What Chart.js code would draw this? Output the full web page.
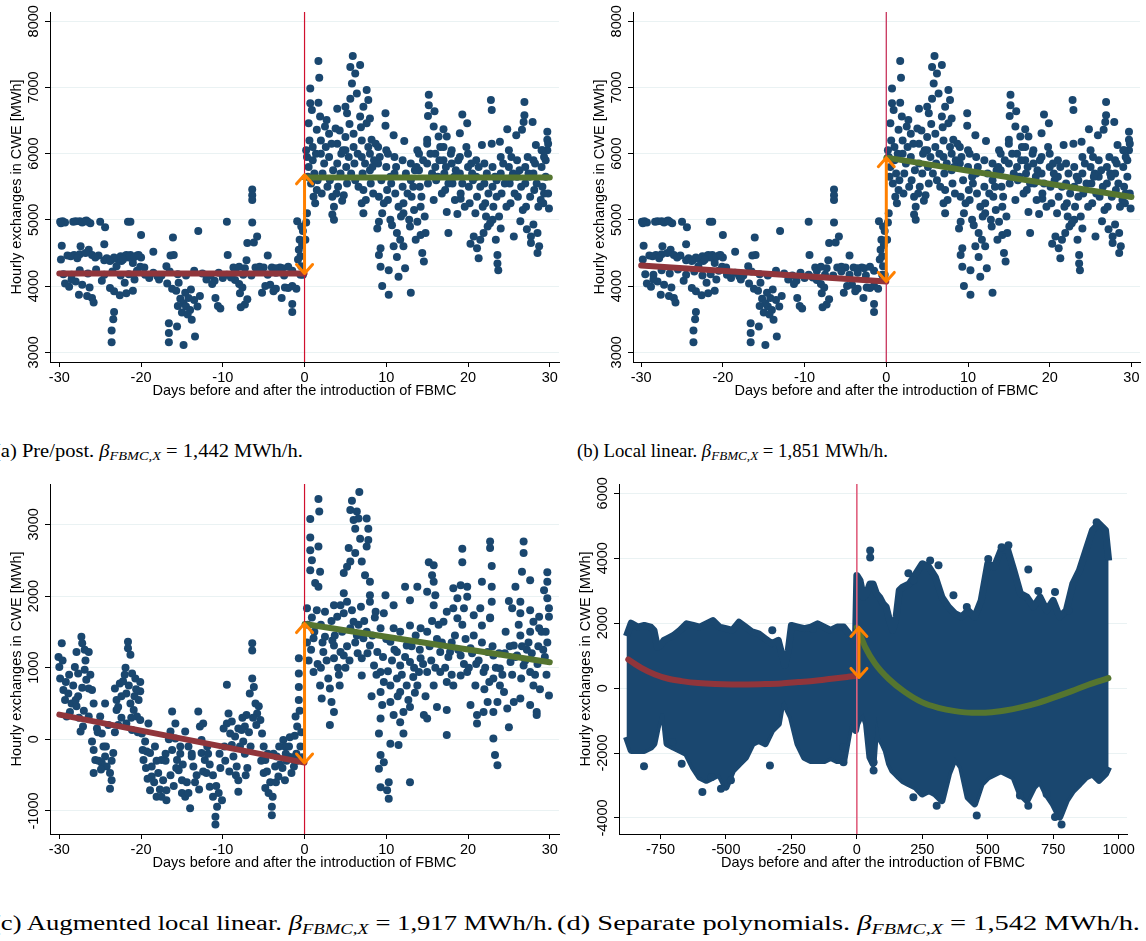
<!DOCTYPE html>
<html>
<head>
<meta charset="utf-8">
<script src="https://cdn.jsdelivr.net/npm/chart.js@4.4.1/dist/chart.umd.min.js"></script>
<style>
  body { margin: 0; background: #fff; width: 1146px; height: 941px; position: relative; overflow: hidden; }
  canvas { position: absolute; }
  .cap { position: absolute; font-family: 'Liberation Serif', 'DejaVu Serif', serif; white-space: nowrap; color: #000; transform-origin: 0 50%; }
  .top { font-size: 19px; line-height: 22px; top: 440px; }
  .bot { font-size: 20px; line-height: 24px; top: 911px; }
  .cap sub { font-size: 0.7em; font-style: italic; vertical-align: -0.25em; line-height: 0; }
</style>
</head>
<body>
<canvas id="cA" width="573" height="400" style="left:0;top:0"></canvas>
<canvas id="cB" width="563" height="400" style="left:583px;top:0"></canvas>
<canvas id="cC" width="573" height="400" style="left:0;top:472px"></canvas>
<canvas id="cD" width="573" height="400" style="left:569px;top:472px"></canvas>

<div class="cap top" data-w="309" style="left:-6px">(a) Pre/post. <i>β</i><sub>FBMC,X</sub> = 1,442 MWh/h.</div>
<div class="cap top" data-w="311" style="left:577px">(b) Local linear. <i>β</i><sub>FBMC,X</sub> = 1,851 MWh/h.</div>
<div class="cap bot" data-w="561" style="left:-8px">(c) Augmented local linear. <i>β</i><sub>FBMC,X</sub> = 1,917 MWh/h.</div>
<div class="cap bot" data-w="583" style="left:557px">(d) Separate polynomials. <i>β</i><sub>FBMC,X</sub> = 1,542 MWh/h.</div>

<script>
// hourly exchanges, 30 days window (panels a and b share the same points)
const abPre = [
  [-29.9,4970],[-29.6,4980],[-29.3,4960],[-28,4980],[-27.5,4980],[-26.9,4980],[-26.5,4970],[-26.2,4950],[-25,4970],[-24.4,4890],
  [-21.6,4970],[-21.3,4970],[-20,4770],[-9.5,4970],[-6.4,5460],[-6.4,5370],[-6.4,5300],[-6.4,4960],[-13,4830],[-16.1,4735],
  [-18.5,4520],[-29.7,4610],[-29.8,4400],[-29,4460],[-28.2,4470],[-27.5,4480],[-27.4,4600],[-26.4,4550],[-26,4470],[-25.2,4460],
  [-24.5,4630],[-24.5,4390],[-23.6,4400],[-22.8,4400],[-22,4450],[-21.3,4470],[-20.5,4460],[-20,4430],[-21,4350],[-22.4,4380],
  [-23,4300],[-20.1,4290],[-16.4,4460],[-16,4470],[-9.4,4470],[-7.1,4390],[-7,4650],[-6.2,4660],[-5.8,4750],[-4.5,4460],
  [-6,4280],[-5,4280],[-4,4280],[-3,4280],[-5.5,4290],[-3.5,4270],[-12,4100],[-11,4080],
  [-29.5,4180],[-28.5,4170],[-27.5,4240],[-26.5,4190],[-25.5,4250],[-24.5,4170],[-23.5,4220],[-22.5,4160],[-21.5,4180],[-20.5,4230],
  [-19.5,4170],[-18.5,4200],[-17.5,4160],[-16.5,4220],[-15.5,4180],[-14.5,4160],[-13.5,4230],[-12.5,4190],[-11.5,4160],[-10.5,4200],
  [-9.5,4170],[-8.5,4230],[-7.5,4170],[-6.5,4160],[-5.5,4220],[-4.5,4170],[-3.5,4200],[-2.5,4160],[-1.5,4230],[-0.5,4170],
  [-29.3,4040],[-28.8,3990],[-28,4070],[-27.6,3870],[-26.6,3850],[-26,3820],[-25.8,3750],[-23.8,3970],[-23.3,3920],[-22.6,3860],
  [-21.8,3890],[-21,3930],[-23.3,3610],[-23.4,3500],[-23.6,3330],[-23.6,3150],[-16.8,4040],[-16.2,3960],[-15.7,3930],[-15.2,3810],
  [-14.8,3740],[-14.2,3820],[-13.5,3790],[-13.1,3690],[-14.5,3690],[-15,3600],[-14,3640],[-16.6,3440],[-16.6,3290],[-16.6,3150],
  [-15.6,3390],[-14.8,3110],[-13.8,3490],[-13.4,3240],[-11.3,4030],[-10.9,3820],[-10.3,3660],[-10.6,3700],[-8.5,4090],[-8,4030],
  [-7.9,3890],[-7.3,3720],[-7.8,3680],[-4.2,4020],[-3.5,3960],[-2.4,3980],[-1.5,4000],[-2.8,3820],[-1.5,3730],[-1.5,3610],
  [-0.9,4980],[-0.6,4700],[-0.5,4450],[-0.3,4620],[-0.2,4830],[-0.2,4170],[-0.4,4300],[-0.7,4550],
  [-29.8,4950],[-28.3,4970],[-27.2,4960],[-26.7,4990],[-28.6,4450],[-27.8,4420],[-26.8,4500],[-25.6,4430],[-24.2,4420],[-23.3,4430],
  [-22.5,4450],[-21.8,4470],[-21.5,4430],[-20.8,4440],[-20.3,4470],[-22.2,4400],[-23.8,4380],[-28.5,4100],[-27.2,4020],[-26.3,3980],
  [-24.8,4080],[-22,4050],[-20.8,4100],[-19,4120],[-17.8,4100],[-15.4,4050],[-14.6,3900],[-13.9,3950],[-12.8,3850],[-15.5,3700],
  [-14.3,3570],[-9,4130],[-7.6,3980],[-7,3800],[-5.2,3900],[-4.8,4000],[-3.8,3920],[-2,3970],[-1,3960],[-8.7,4280],
  [-8,4290],[-7.3,4270],[-2.7,4270],[-2,4290],[-0.8,4400],[-0.4,4900],[-10,4120],[-18,4150],[-19.6,4280],[-16.9,4300]
];
const abPost = [
  [1.7,7400],[1.8,7145],[0.7,6985],[5.9,7475],[5.6,7310],[6.8,7340],[6.2,7210],[5.8,7060],[6.4,6910],[7.6,6960],
  [7.8,6810],[7.2,6710],[5.6,6830],[0.7,6760],[1.7,6770],[0.9,6660],[4,6680],[5,6710],[5.2,6610],[1.9,6560],
  [2.7,6510],[2.5,6410],[0.5,6460],[1.5,6360],[3.8,6380],[6.8,6560],[7.6,6460],[8,6530],[9.9,6610],[9.9,6420],
  [10.9,6280],[8.2,6210],[12.2,6190],[13.8,6050],[15.2,6890],[15.2,6730],[15.1,6570],[15.9,6640],[15.8,6410],[17,6370],
  [17.4,6260],[16.4,6260],[15,6210],[19.3,6590],[19.9,6460],[19,6310],[22.8,6810],[22.9,6660],[21.7,6130],[22.9,6150],
  [23.9,6180],[24.8,6370],[26.9,6780],[26.9,6580],[26.8,6480],[27.9,6480],[25.9,6280],[26.6,6360],[29.7,6330],[29.7,6210],
  [29.7,6050],[28.3,6130],[29.1,6050],
  [1.1,5350],[1.3,5250],[0.3,5100],[0.1,4700],[0.2,4960],[3.4,5350],[3.6,5200],[3.6,5000],[3.4,5080],[4.8,5370],
  [4.6,5290],[7,5250],[7.2,5100],[9.5,5100],[9.1,4970],[8.9,4870],[9.3,4570],[9.1,4470],[9.5,4000],[10.3,3870],
  [9.3,4290],[10.3,4240],[11.5,4140],[12.3,4270],[13,3900],[10.5,5000],[10.7,4920],[11.3,4800],[11.7,4700],[12.1,4600],
  [10.9,4600],[11.3,4440],[12.1,5100],[12.9,4900],[13.8,4970],[13.6,4700],[14.4,4500],[14.6,4370],[14.2,4770],[14.8,4800],
  [17.4,5120],[17.6,4800],[18.7,5090],[19.1,5320],[20.3,4640],[21.1,4570],[21.3,4420],[20.7,4750],[21.5,4700],[21.9,4800],
  [22.4,4900],[23.4,4700],[23.6,4470],[23.6,4340],[23.7,4240],[23,5000],[24,4870],[25.6,4750],[27.7,4750],[27.7,4650],
  [28.5,4800],[28.5,4500],[28.7,4600],[26.4,4980],[27.2,4860],[28,4930],[29.9,5170],[28.9,5300],[29.3,5400],
  [0.3,5950],[0.5,5800],[0.4,5650],[1,6100],[1,5900],[1.2,5700],[1.5,5450],[2,6200],[2,6000],[2.2,5700],
  [2.1,5400],[3,6300],[3,5950],[3.1,5600],[4,6150],[4,5850],[4.1,5500],[5,6250],[5,6050],[5.1,5800],
  [5.2,5550],[6,6300],[6,6100],[6.1,5850],[6.2,5600],[7,6200],[7,5950],[7.1,5700],[7.2,5450],[8,6000],
  [8,5750],[8.1,5550],[9,6100],[9,5850],[9.1,5350],[10,6050],[10,5800],[10.1,5450],[10.2,5300],[11,5950],
  [11,5700],[11.1,5400],[12,5900],[12,5500],[12.1,5250],[13,5850],[13,5600],[13.1,5350],[14,6000],[14,5750],
  [14.1,5500],[14.2,5200],[15,6150],[15,5850],[15.1,5550],[16,6000],[16,5800],[16.1,5600],[17,6100],[17,5900],
  [17.1,5700],[17.2,5450],[18,6050],[18,5850],[18.1,5550],[19,5950],[19,5700],[19.1,5400],[20,6000],[20,5800],
  [20.1,5500],[20.2,5250],[21,5900],[21,5650],[21.1,5350],[22,5850],[22,5550],[22.1,5250],[22.2,5050],[23,5800],
  [23,5500],[23.1,5200],[24,5950],[24,5700],[24.1,5400],[25,6050],[25,5800],[25.1,5550],[25.2,5250],[26,5900],
  [26,5650],[26.1,5350],[27,5800],[27,5550],[27.1,5200],[28,5900],[28,5700],[28.1,5450],[29,6050],[29,5800],
  [29.1,5500],[29.2,5250],[0.6,6200],[2.6,6100],[4.5,6000],[8.5,5900],[10.5,5650],[13.5,5750],[16.5,5900],[18.5,5750],
  [20.5,5700],[23.5,5600],[25.5,5700],[27.5,5650],[29.5,5900],
  [0.2,6050],[0.8,5550],[1.4,6000],[1.6,5600],[2.4,5850],[2.8,5500],[3.3,6150],[3.5,5750],[3.9,5400],[4.3,6350],
  [4.4,5700],[4.7,6050],[5.4,5950],[5.5,6450],[5.7,5700],[6.5,6000],[6.6,5500],[6.9,6400],[7.4,5850],[7.5,5300],
  [7.8,6100],[8.3,5800],[8.4,5400],[8.7,6150],[9.2,5950],[9.4,5600],[9.7,5250],[10.2,6000],[10.6,5550],[11.2,5800],
  [11.5,5200],[11.8,5050],[12.4,5700],[12.6,5400],[12.8,5000],[13.3,5500],[13.4,5150],[13.7,5800],[14.3,5350],[14.5,5900],
  [14.7,5050],[15.4,6000],[15.6,5700],[15.8,5300],[16.3,5650],[16.6,6100],[16.8,5400],[17.3,5800],[17.6,5550],[17.9,6000],
  [18.3,5650],[18.4,5300],[18.8,5900],[19.3,5550],[19.6,5200],[19.8,6100],[20.4,5850],[20.6,5600],[20.9,5100],[21.3,5800],
  [21.5,5500],[21.8,5200],[22.3,5700],[22.5,5400],[22.7,4950],[23.3,5650],[23.5,5350],[23.8,5050],[24.3,5850],[24.5,5550],
  [24.7,5200],[25.3,5950],[25.4,5650],[25.7,5400],[26.3,5750],[26.5,5500],[26.7,5150],[27.3,5950],[27.4,5700],[27.6,5350],
  [28.2,5850],[28.4,5550],[28.6,5200],[29.3,5950],[29.5,5650],[29.8,5400],[29.8,6150]
];
// fitted lines (days, MWh)
const aFitPre = [[-30,4190],[0,4190]];
const aFitPost = [[0,5640],[30,5640]];
const aJump = [4190, 5680];
const bFitPre = [[-30,4310],[0,4070]];
const bFitPost = [[0,5940],[30,5345]];
const bJump = [4070, 5940];

// augmented (residualised) exchanges, panel c
const cPre = [
  [-29.7,1340],[-30.1,1150],[-30,1010],[-29.9,850],[-29.5,690],[-29.3,550],[-29.1,320],[-28.5,500],[-27.9,460],[-27.7,600],
  [-28.9,640],[-27.3,1430],[-27.2,1340],[-27.9,1220],[-26.9,1250],[-26.4,1220],[-28.1,1010],[-27.7,920],[-26.9,970],[-26.7,830],
  [-26.4,710],[-26,690],[-27.4,110],[-27.1,180],[-26.4,320],[-26,-30],[-25.8,-150],[-25.6,-290],[-25.8,-470],[-25,320],
  [-24.8,80],[-24.6,-100],[-24.4,-240],[-24.2,-380],[-24.8,-330],[-23.8,-470],[-23.6,-570],[-23.8,-690],[-23.4,-190],[-24.4,500],
  [-23.2,710],[-23,550],[-23,410],[-22.6,780],[-22.2,810],[-21.6,1360],[-21.3,1180],[-21.6,1270],[-22,900],[-21.1,920],
  [-20.7,850],[-20.1,800],[-20.1,670],[-21.8,640],[-21.3,500],[-20.9,410],[-20.5,320],[-20.1,270],[-21.8,220],[-21.1,130],
  [-19.9,80],[-19.5,-30],[-19.3,-170],[-19.7,-290],[-19.1,220],[-18.9,-190],[-18.7,-380],[-18.7,-520],[-18.9,-710],[-18.1,-800],
  [-16.9,-850],[-17.9,-470],[-17.5,-290],[-17.3,-570],[-16.9,-710],[-16.2,390],[-15.8,220],[-16.4,110],[-15.8,10],[-16.2,-150],
  [-15.6,-290],[-15.4,-430],[-15,-570],[-15,-750],[-14.6,-800],[-14,-960],[-14.6,110],[-14.2,-100],[-13.8,-240],[-13.6,-380],
  [-13,390],[-12.8,180],[-12.4,220],[-12.6,-10],[-12.6,-190],[-12.2,-290],[-12,-470],[-11.6,-660],[-11.2,-800],[-10.7,-940],
  [-10.9,-1080],[-10.9,-1190],[-10.5,-750],[-10.1,-850],[-9.5,760],[-9.3,360],[-9.5,220],[-9.1,80],[-8.9,-80],[-8.5,40],
  [-8.1,150],[-8.7,-240],[-8.3,-380],[-8.1,-570],[-8.1,-730],[-7.3,180],[-7.5,-30],[-7.3,-200],[-7.7,130],[-6.4,1340],
  [-6.4,1240],[-6.4,850],[-6.2,730],[-6.7,640],[-6,500],[-5.8,360],[-5.4,270],[-5.2,80],[-5.6,460],[-7.1,340],
  [-5,-100],[-4.8,-290],[-5,-470],[-4.8,-680],[-4.4,-750],[-4,-940],[-4,-1060],[-3.6,-380],[-3.2,-520],[-3.4,-240],
  [-2.6,-10],[-2.4,-100],[-1.8,30],[-2,-240],[-1.3,-380],[-1.6,-470],[-2.4,-570],[-0.9,180],[-1.1,320],[-0.7,550],
  [-0.7,730],[-0.7,920],[-0.7,1130],[-0.5,-100],[-28.7,380],[-27,400],[-25.3,100],[-22.8,200],[-20.8,600],[-18.3,-100],
  [-17,-300],[-15.2,-100],[-13.4,-600],[-11.8,-200],[-10.3,-400],[-9.8,-100],[-7,-400],[-6.6,-100],[-3.8,-200],[-3,-350],
  [-2.2,-300],[-1,-200],[-0.3,-250],
  [-29.6,1100],[-29.2,800],[-28.8,900],[-28.3,750],[-28,550],[-27.6,300],[-27.2,720],[-26.8,1100],[-26.2,900],[-25.8,500],
  [-25.4,150],[-25.2,-300],[-24.9,-420],[-24.3,-100],[-24,200],[-23.6,-300],[-23.2,100],[-22.8,450],[-22.4,600],[-22.4,300],
  [-21.9,1000],[-21.5,750],[-21.2,300],[-20.6,700],[-20.3,550],[-20.4,100],[-19.8,-150],[-19.4,-400],[-19.2,-550],[-18.4,-600],
  [-18.1,-300],[-17.7,-700],[-17.5,-800],[-17,-200],[-16.6,0],[-16.4,-500],[-16,-650],[-15.7,-400],[-15.2,-200],[-14.9,-350],
  [-14.4,-600],[-14.2,-750],[-13.8,-200],[-13.2,-500],[-12.9,-700],[-12.4,-450],[-11.9,-100],[-11.6,-350],[-11.2,-500],[-10.8,-650],
  [-10.4,-200],[-9.9,150],[-9.7,-300],[-9.2,-450],[-8.9,250],[-8.4,-500],[-7.9,-100],[-7.6,300],[-7.2,-500],[-6.8,100],
  [-6.3,300],[-5.9,200],[-5.3,-300],[-4.6,-450],[-4.2,-600],[-4.5,-200],[-3.9,-800],[-3.5,-600],[-3.1,-100],[-2.7,-400],
  [-2.3,-200],[-1.9,-100],[-1.5,-250],[-1.2,50],[-0.9,-300],[-0.6,400],[-0.4,100]
];
const cPost = [
  [1.7,3355],[1.8,3180],[0.7,3075],[0.7,2815],[0.7,2640],[0.9,2500],[0.7,2360],[1.3,2180],[1.7,2130],[1.9,2340],
  [1.7,2690],[6.7,3450],[5.8,3330],[5.6,3200],[6.4,3180],[6,3060],[6.6,3080],[6.2,2940],[7.6,3080],[7.8,2940],
  [7.8,2780],[7.6,2690],[6.8,2800],[5.4,2670],[6.2,2600],[5.6,2480],[5.2,2410],[4.8,2320],[7,2480],[7.4,2290],
  [8,2200],[8,2010],[4.8,2040],[5.2,1920],[4.4,1870],[4.8,1760],[4,1710],[0.3,1830],[1.5,1800],[2.5,1780],
  [3.6,1870],[9.9,2010],[10.9,1870],[9.7,1760],[8.7,1780],[8,1920],[12.3,2130],[13.8,2130],[12.9,1940],[15.2,2470],
  [15.8,2430],[15.6,2290],[15.8,2200],[15,2060],[16,2010],[15.8,1870],[19.3,2660],[19.3,2470],[22.7,2760],[22.7,2670],
  [22.9,2420],[21.7,2200],[22.9,2130],[22.9,1920],[22.7,1700],[26.8,2760],[26.8,2600],[26.6,2340],[27.6,2220],[29.7,2330],
  [29.7,2200],[25.8,2130],[25,1930],[26.4,1920],[29.3,2080],[29.7,1970],[29.9,1830],[18.2,2110],[19.1,2150],[19.9,2130],
  [18.7,1970],[19.9,1990],[19.5,1830],[17.4,1780],[18.2,1830],[17,1640],[18.7,1690],[20.7,1730],[21.5,1830],[21.7,1590],
  [22.7,1690],[25.4,1830],[26.4,1760],[27.6,1800],[28.7,1710],[29.9,1710],[29.5,1500],[28,1640],[28.7,1550],[27.6,1500],
  [26.4,1450],[1.1,1410],[2.3,1220],[3.6,1130],[4.8,1170],[3.6,1310],[2.5,1430],[3.4,1380],[4.4,1220],[1.1,940],
  [1.9,750],[2.1,570],[3.1,710],[3.3,520],[3.6,380],[3.1,200],[7,1130],[7,890],[6,1640],[7.2,1410],
  [8,1310],[8.9,1220],[8.5,1030],[9.3,940],[9.7,800],[10.5,750],[11.3,850],[9.3,660],[9.5,480],[9.3,290],
  [9.1,80],[10.5,-60],[11.5,-80],[9.3,-220],[9.7,-320],[9.1,-410],[9.3,-670],[10.1,-710],[10.3,-830],[10.3,-600],
  [12.9,-600],[12.1,80],[10.5,520],[10.9,340],[11.7,240],[12.1,380],[12.9,450],[11.7,660],[12.5,750],[13.3,870],
  [14,940],[10.5,1360],[11.3,1220],[12.5,1310],[13.6,1450],[14.2,1550],[15,1500],[11.7,1030],[12.9,1080],[14.2,1130],
  [15,940],[15.8,750],[14.6,340],[15,290],[16.2,450],[17.4,410],[17.4,60],[16.6,940],[17.4,800],[18.2,750],
  [19.1,890],[19.9,940],[16.6,1220],[17.8,1220],[19.1,1170],[20.3,1270],[20.7,1450],[20.3,480],[21.1,340],[21.1,220],
  [21.9,380],[22.4,520],[21.9,940],[23.1,850],[23.9,750],[24.4,660],[23.6,520],[23.1,380],[23.1,10],[23.3,-220],
  [23.6,-360],[23.9,990],[25.2,1080],[26,1170],[26.8,1030],[27.6,940],[24.8,430],[25.6,520],[26.4,570],[27.6,480],
  [28.4,380],[28.4,340],[25,170],[28,750],[28.8,700],[29.9,610],[23.1,1170],[22.4,1220],[25.6,1310],[5.6,1550],
  [6.4,1450],[7.6,1500],[9.3,1550],[12.9,1590],[11.7,1500],[10.9,1550],[0.4,1600],[0.8,1250],[2,1000],[4.2,900],
  [5,1000],[6.5,1200],[8.2,600],[13.5,650],[15.5,1100],[16.2,1400],[18,1350],[19.5,1050],[21,1050],[22,700],
  [24.5,1200],[26.5,850],[27.2,1250],[28.5,1050],[29.2,1250],[29.6,900],
  [0.3,1350],[0.5,1100],[0.9,1700],[1.2,1500],[1.6,1050],[2,1600],[2.2,1350],[2.7,1100],[2.9,850],[3.3,1650],
  [3.7,1450],[4.1,1000],[4.3,750],[4.6,1500],[5.2,1300],[5.5,1100],[5.8,1800],[6.2,1350],[6.6,1600],[6.9,1850],
  [7.3,1650],[7.7,1200],[8.3,1450],[8.6,1700],[8.8,900],[9.6,1150],[10,1400],[10.2,950],[10.7,1100],[11,1250],
  [11.4,600],[11.9,900],[12.3,1150],[12.7,550],[13.1,1300],[13.4,1000],[13.8,750],[14.1,1250],[14.5,1050],[14.8,600],
  [15.3,1300],[15.6,1650],[16,1000],[16.4,1600],[16.8,1350],[17.2,1000],[17.6,1150],[18,900],[18.4,1450],[18.8,1250],
  [19.3,1600],[19.7,1400],[20.1,1000],[20.5,1200],[20.9,750],[21.3,1100],[21.7,1350],[22.1,1000],[22.6,800],[23,1300],
  [23.4,1000],[23.8,1200],[24.2,900],[24.6,1500],[25.1,1300],[25.4,900],[25.8,1150],[26.2,1600],[26.6,1300],[27,1100],
  [27.4,1350],[27.8,1200],[28.2,900],[28.6,1300],[29,1500],[29.4,1150],[29.7,1350]
];
const cFitPre = [[-30,345],[0,-325]];
const cFitPost = [[0,1610],[30,1075]];
const cJump = [-330, 1615];

// panel d: full sample, envelope of the hourly cloud (days, upper MWh, lower MWh)
const dDays = [-880,-862,-837,-812,-787,-775,-762,-750,-737,-725,-700,-675,-650,-625,-600,-575,-550,-525,-500,-475,
  -450,-425,-400,-375,-350,-325,-300,-287,-275,-262,-250,-225,-200,-175,-150,-125,-100,-75,-50,-25,-5,
  0,12,25,37,50,62,75,87,100,112,125,137,150,162,175,200,225,250,275,300,325,350,375,400,425,450,475,
  500,525,550,575,600,625,650,675,700,725,750,775,800,825,850,875,900,925,950,962];
const dHigh = [1600,2000,1880,1930,1880,1780,1260,1310,1470,1520,1620,1780,1980,1930,1880,1980,2080,1880,1830,1780,
  2030,1880,1730,1670,1520,1370,1470,1060,700,1160,1930,1880,1830,1880,1980,1880,1780,1880,1880,1620,1470,
  3470,3320,2800,2910,3210,3210,2910,2800,2600,2500,2080,1780,2190,3010,3110,3210,3520,3830,3730,3420,2800,2500,2290,2190,2390,2190,2700,
  3830,3730,4240,4290,3620,2910,2800,2500,2800,2390,2700,2190,2390,3210,3620,4240,4860,5060,4860,3930];
const dLow = [-1500,-1920,-1920,-1920,-1820,-1710,-1200,-790,-790,-1710,-1820,-1920,-2020,-2430,-2740,-2840,-2740,-2640,-3050,-2540,
  -2330,-2130,-1710,-1610,-1710,-1300,-1100,-480,-380,-690,-890,-1710,-2130,-2230,-2230,-2230,-2130,-2230,-2230,-1100,-1300,
  -1100,-890,-790,-1100,-2130,-2330,-890,-1510,-1710,-1920,-2330,-2540,-2640,-2740,-2840,-2950,-3050,-3260,-3150,-3260,-3460,-2640,-2130,-2430,-3360,-3560,-2950,
  -2740,-2640,-2540,-2640,-2740,-3260,-3460,-3050,-2840,-3260,-3560,-3970,-3460,-3150,-2950,-2740,-2640,-2840,-2640,-2430];
const dOutliers = [[-813,-2410],[-669,-2330],[-705,-1660],[-590,-3200],[-555,-2740],[-519,-3100],[-481,-2840],[-332,-2380],[-323,1780],
  [-168,1830],[-51,-2280],[-51,-1820],[51,4240],[51,4020],[64,-2540],[64,-2280],[197,3540],[216,3320],[280,3930],[312,3780],
  [369,2860],[420,2500],[216,-3360],[305,-3620],[458,-3920],[502,3980],[553,4340],[579,4400],[655,3650],[693,2990],
  [757,2960],[808,2390],[623,-3310],[655,-3620],[757,-3970],[782,-4200],[916,5110],[725,-3260]];
const dFitPre = [[-873,883],[-822,616],[-771,421],[-720,288],[-669,216],[-606,154],[-542,123],[-478,113],[-415,113],[-351,123],
  [-288,144],[-224,185],[-160,226],[-97,288],[-33,349],[0,380]];
const dFitPost = [[0,1870],[6,1777],[32,1263],[70,750],[121,288],[184,-123],[248,-431],[312,-606],[375,-709],[439,-760],
  [503,-750],[566,-688],[630,-585],[693,-452],[757,-277],[821,-92],[884,103],[961,308]];
const dJump = [330, 1870];

// tick labels
const dayTicks30 = [-30, -20, -10, 0, 10, 20, 30];
const dayTicksAll = [-750, -500, -250, 0, 250, 500, 750, 1000];
const mwhTicksAB = [3000, 4000, 5000, 6000, 7000, 8000];
const mwhTicksC = [-1000, 0, 1000, 2000, 3000];
const mwhTicksD = [-4000, -2000, 0, 2000, 4000, 6000];

const NAVY = '#1a476f', MAROON = '#90353b', GREEN = '#55752f', ORANGE = '#ff8000';
const FONT = { family: '"Liberation Sans", Arial, sans-serif', size: 14.5 };

const xy = pairs => pairs.map(p => ({ x: p[0], y: p[1] }));

const fbmcMarks = {
  id: 'fbmcMarks',
  afterDatasetsDraw(chart, args, opts) {
    const { ctx, chartArea: a, scales: { x, y } } = chart;
    const x0 = x.getPixelForValue(0);
    ctx.save();
    ctx.strokeStyle = opts.xlineColor;
    ctx.lineWidth = opts.xlineWidth;
    ctx.beginPath(); ctx.moveTo(x0, a.top); ctx.lineTo(x0, a.bottom); ctx.stroke();
    // jump at the cutoff, double-headed arrow
    const ax = x.getPixelForValue(opts.jumpAt);
    const yLo = y.getPixelForValue(opts.jump[0]);
    const yHi = y.getPixelForValue(opts.jump[1]);
    ctx.strokeStyle = ORANGE; ctx.lineWidth = 3; ctx.lineCap = 'round'; ctx.lineJoin = 'round';
    ctx.beginPath();
    ctx.moveTo(ax, yLo); ctx.lineTo(ax, yHi);
    ctx.moveTo(ax - 8, yHi + 9); ctx.lineTo(ax, yHi); ctx.lineTo(ax + 8, yHi + 9);
    ctx.moveTo(ax - 8, yLo - 9); ctx.lineTo(ax, yLo); ctx.lineTo(ax + 8, yLo - 9);
    ctx.stroke();
    ctx.restore();
  },
  afterDraw(chart) {
    // Stata-style vertical y tick labels
    const { ctx, chartArea: a, scales: { y } } = chart;
    ctx.save();
    ctx.font = FONT.size + 'px ' + FONT.family;
    ctx.fillStyle = '#000'; ctx.textAlign = 'center'; ctx.textBaseline = 'middle';
    y.ticks.forEach(t => {
      ctx.save();
      ctx.translate(a.left - 16, y.getPixelForValue(t.value));
      ctx.rotate(-Math.PI / 2);
      ctx.fillText(String(t.value), 0, 0);
      ctx.restore();
    });
    ctx.restore();
  }
};

function fitLine(pairs, color, smooth) {
  return { type: 'line', data: xy(pairs), borderColor: color, borderWidth: 6, pointRadius: 0,
    borderCapStyle: 'round', tension: smooth ? 0.4 : 0, cubicInterpolationMode: smooth ? 'monotone' : 'default', order: 0 };
}

function dots(pairs) {
  return { type: 'scatter', data: xy(pairs), backgroundColor: NAVY, borderWidth: 0, pointRadius: 4, order: 2 };
}

function makePanel(id, p) {
  new Chart(document.getElementById(id), {
    type: 'scatter',
    data: { datasets: p.datasets },
    options: {
      responsive: false,
      animation: false,
      layout: { padding: { left: 0, right: p.padR, top: 12, bottom: 0 } },
      plugins: {
        legend: { display: false },
        tooltip: { enabled: false },
        fbmcMarks: { xlineColor: p.xlineColor, xlineWidth: p.xlineWidth, jump: p.jump, jumpAt: p.jumpAt }
      },
      scales: {
        x: {
          type: 'linear', min: p.xMin, max: p.xMax,
          afterBuildTicks: s => { s.ticks = p.xTicks.map(v => ({ value: v })); },
          border: { color: '#000', width: 1 },
          grid: { drawOnChartArea: false, tickLength: 5, tickColor: '#000' },
          ticks: { maxRotation: 0, autoSkip: false, color: '#000', font: FONT, padding: 2, callback: v => String(v) },
          title: { display: true, text: 'Days before and after the introduction of FBMC', color: '#000', font: FONT, padding: { top: 0, bottom: 0 } },
          afterFit: s => { s.height = 38; }
        },
        y: {
          type: 'linear', min: p.yMin, max: p.yMax,
          afterBuildTicks: s => { s.ticks = p.yTicks.map(v => ({ value: v })); },
          border: { color: '#000', width: 1 },
          grid: { color: '#eaf2f3', lineWidth: 1, tickLength: 5, tickColor: '#000' },
          ticks: { display: false },
          title: { display: true, text: 'Hourly exchanges in CWE [MWh]', color: '#000', font: FONT, padding: { top: 8, bottom: 0 } },
          afterFit: s => { s.width = 50; }
        }
      }
    },
    plugins: [fbmcMarks]
  });
}

makePanel('cA', {
  datasets: [fitLine(aFitPre, MAROON), fitLine(aFitPost, GREEN), dots(abPre), dots(abPost)],
  xMin: -31.14, xMax: 31.13, xTicks: dayTicks30, yMin: 2853, yMax: 8140, yTicks: mwhTicksAB, padR: 14,
  xlineColor: '#d0102e', xlineWidth: 1.2, jump: aJump, jumpAt: 0
});
makePanel('cB', {
  datasets: [fitLine(bFitPre, MAROON), fitLine(bFitPost, GREEN), dots(abPre), dots(abPost)],
  xMin: -31.0, xMax: 31.05, xTicks: dayTicks30, yMin: 2853, yMax: 8140, yTicks: mwhTicksAB, padR: 6,
  xlineColor: '#c8345c', xlineWidth: 1.3, jump: bJump, jumpAt: 0
});
makePanel('cC', {
  datasets: [fitLine(cFitPre, MAROON), fitLine(cFitPost, GREEN), dots(cPre), dots(cPost)],
  xMin: -31.14, xMax: 31.13, xTicks: dayTicks30, yMin: -1321, yMax: 3563, yTicks: mwhTicksC, padR: 14,
  xlineColor: '#d0102e', xlineWidth: 1.2, jump: cJump, jumpAt: 0
});

const dUpper = { type: 'line', data: dDays.map((d, i) => ({ x: d, y: dHigh[i] })), borderColor: NAVY, backgroundColor: NAVY,
  borderWidth: 7, borderJoinStyle: 'round', pointRadius: 0, fill: '+1', order: 3 };
const dLower = { type: 'line', data: dDays.map((d, i) => ({ x: d, y: dLow[i] })), borderColor: NAVY,
  borderWidth: 7, borderJoinStyle: 'round', pointRadius: 0, fill: false, order: 3 };
makePanel('cD', {
  datasets: [fitLine(dFitPre, MAROON, true), fitLine(dFitPost, GREEN, true), dUpper, dLower, dots(dOutliers)],
  xMin: -908.5, xMax: 1032, xTicks: dayTicksAll, yMin: -4493, yMax: 6286, yTicks: mwhTicksD, padR: 15,
  xlineColor: '#e0607e', xlineWidth: 1.6, jump: dJump, jumpAt: 8
});

// stretch captions to the widths they take in the figure
document.querySelectorAll('.cap').forEach(el => {
  const w = el.getBoundingClientRect().width;
  el.style.transform = 'scaleX(' + (Number(el.dataset.w) / w).toFixed(3) + ')';
});
</script>
</body>
</html>
